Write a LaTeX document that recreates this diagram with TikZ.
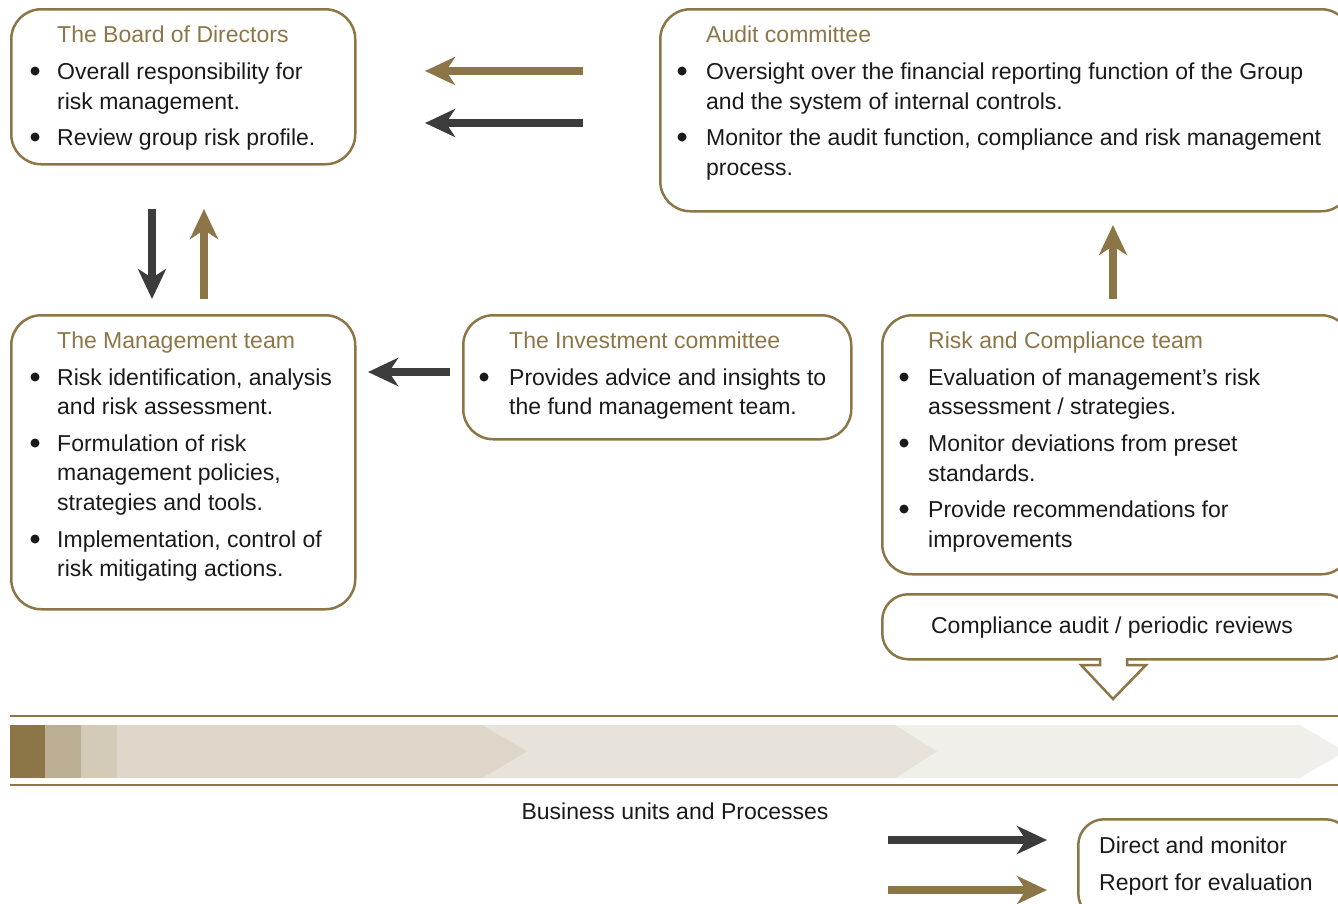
\documentclass[tikz,border=0pt]{standalone}
\usepackage{fontspec}
\setmainfont{Liberation Sans}
\usetikzlibrary{arrows.meta}

\definecolor{gold}{RGB}{140,118,71}
\definecolor{arrowdark}{RGB}{60,60,60}
\definecolor{textblack}{RGB}{26,26,26}
\definecolor{tanA}{RGB}{188,174,147}
\definecolor{tanB}{RGB}{211,202,183}
\definecolor{chevA}{RGB}{222,214,201}
\definecolor{chevB}{RGB}{231,226,218}
\definecolor{chevC}{RGB}{241,239,234}

\tikzset{
    box/.style={draw=gold, line width=2.5pt, rounded corners=30pt, anchor=north west, inner sep=0pt},
    title/.style={anchor=mid west, text=gold, inner sep=0pt, yshift=-6pt},
    txt/.style={anchor=mid west, text=textblack, inner sep=0pt, yshift=-6pt},
    dot/.style={circle, fill=textblack, inner sep=0pt, minimum size=9pt},
    goldarrow/.style={-{Stealth[length=30pt, width=28pt, inset=9pt]}, line width=8pt, draw=gold},
    darkarrow/.style={-{Stealth[length=30pt, width=28pt, inset=9pt]}, line width=8pt, draw=arrowdark}
}

\begin{document}
\begin{tikzpicture}[x=1pt, y=-1pt, font=\fontsize{23}{30}\selectfont]
    \useasboundingbox (0,0) rectangle (1338,903);
    \clip (0,0) rectangle (1338,903);

    % boxes
    \node [box, minimum width=344, minimum height=155] (board) at (10,8) {};
    \node [box, minimum width=691, minimum height=202] (audit) at (659,8) {};
    \node [box, minimum width=344, minimum height=294] (mgmt) at (10,314) {};
    \node [box, minimum width=388, minimum height=124] (invest) at (462,314) {};
    \node [box, minimum width=469, minimum height=259] (risk) at (881,314) {};

    % board of directors
    \node [title] (board-t) at (57,34) {The Board of Directors};
    \foreach \y in {71,137} \node [dot] (board-d\y) at (35,\y) {};
    \foreach \y/\t in {71/Overall responsibility for, 101/risk management., 137/Review group risk profile.}
        \node [txt] (board-\y) at (57,\y) {\t};

    % audit committee
    \node [title] (audit-t) at (706,34) {Audit committee};
    \foreach \y in {71,137} \node [dot] (audit-d\y) at (682,\y) {};
    \foreach \y/\t in {71/Oversight over the financial reporting function of the Group,
                       101/and the system of internal controls.,
                       {137/Monitor the audit function, compliance and risk management},
                       167/process.}
        \node [txt] (audit-\y) at (706,\y) {\t};

    % management team
    \node [title] (mgmt-t) at (57,340) {The Management team};
    \foreach \y in {377,443,539} \node [dot] (mgmt-d\y) at (35,\y) {};
    \foreach \y/\t in {{377/Risk identification, analysis}, 406/and risk assessment.,
                       443/Formulation of risk, {472/management policies,},
                       502/strategies and tools., {539/Implementation, control of},
                       568/risk mitigating actions.}
        \node [txt] (mgmt-\y) at (57,\y) {\t};

    % investment committee
    \node [title] (invest-t) at (509,340) {The Investment committee};
    \node [dot] (invest-d) at (484,377) {};
    \foreach \y/\t in {377/Provides advice and insights to, 406/the fund management team.}
        \node [txt] (invest-\y) at (509,\y) {\t};

    % risk and compliance team
    \node [title] (risk-t) at (928,340) {Risk and Compliance team};
    \foreach \y in {377,443,509} \node [dot] (risk-d\y) at (904,\y) {};
    \foreach \y/\t in {377/Evaluation of management’s risk, 406/{assessment / strategies.},
                       443/Monitor deviations from preset, 473/standards.,
                       509/Provide recommendations for, 539/improvements}
        \node [txt] (risk-\y) at (928,\y) {\t};

    % compliance callout
    \node [box, rounded corners=26pt, minimum width=469, minimum height=65] (comp) at (881,593) {};
    \node [txt, anchor=mid] (comp-t) at (1112,625) {Compliance audit / periodic reviews};
    \fill [white] (1101.5,655) rectangle (1125.5,661);
    \draw [gold, line width=2.5pt, fill=white, line join=miter]
        (1100,658) -- (1100,665) -- (1081,665) -- (1113,699) -- (1146,665) -- (1127,665) -- (1127,658);

    % arrows
    \coordinate (ga1) at (583,71);   \coordinate (ga2) at (425,71);
    \coordinate (da1) at (583,123);  \coordinate (da2) at (425,123);
    \coordinate (dv1) at (152,209);  \coordinate (dv2) at (152,299);
    \coordinate (gv1) at (204,299);  \coordinate (gv2) at (204,209);
    \coordinate (di1) at (450,372);  \coordinate (di2) at (368,372);
    \coordinate (gr1) at (1113,299); \coordinate (gr2) at (1113,225);
    \draw [goldarrow] (ga1) -- (ga2);
    \draw [darkarrow] (da1) -- (da2);
    \draw [darkarrow] (dv1) -- (dv2);
    \draw [goldarrow] (gv1) -- (gv2);
    \draw [darkarrow] (di1) -- (di2);
    \draw [goldarrow] (gr1) -- (gr2);

    % business units bar
    \fill [chevC] (895,725) -- (1300,725) -- (1345,751.5) -- (1300,778) -- (895,778) -- cycle;
    \fill [chevB] (482,725) -- (895,725) -- (937,751.5) -- (895,778) -- (482,778) -- cycle;
    \fill [chevA] (10,725) -- (482,725) -- (527,751.5) -- (482,778) -- (10,778) -- cycle;
    \fill [tanB] (81,725) rectangle (117,778);
    \fill [tanA] (45,725) rectangle (81,778);
    \fill [gold] (10,725) rectangle (45,778);
    \draw [gold, line width=2.5pt] (10,716) -- (1338,716);
    \draw [gold, line width=2.5pt] (10,785) -- (1338,785);
    \node [txt, anchor=mid] (bu) at (675,811) {Business units and Processes};

    % legend
    \node [box, rounded corners=26pt, minimum width=273, minimum height=100] (leg) at (1077,818) {};
    \node [txt] (leg-1) at (1099,845) {Direct and monitor};
    \node [txt] (leg-2) at (1099,882) {Report for evaluation};
    \coordinate (ld1) at (888,840);  \coordinate (ld2) at (1047,840);
    \coordinate (lg1) at (888,890);  \coordinate (lg2) at (1047,890);
    \draw [darkarrow] (ld1) -- (ld2);
    \draw [goldarrow] (lg1) -- (lg2);
\end{tikzpicture}
\end{document}
